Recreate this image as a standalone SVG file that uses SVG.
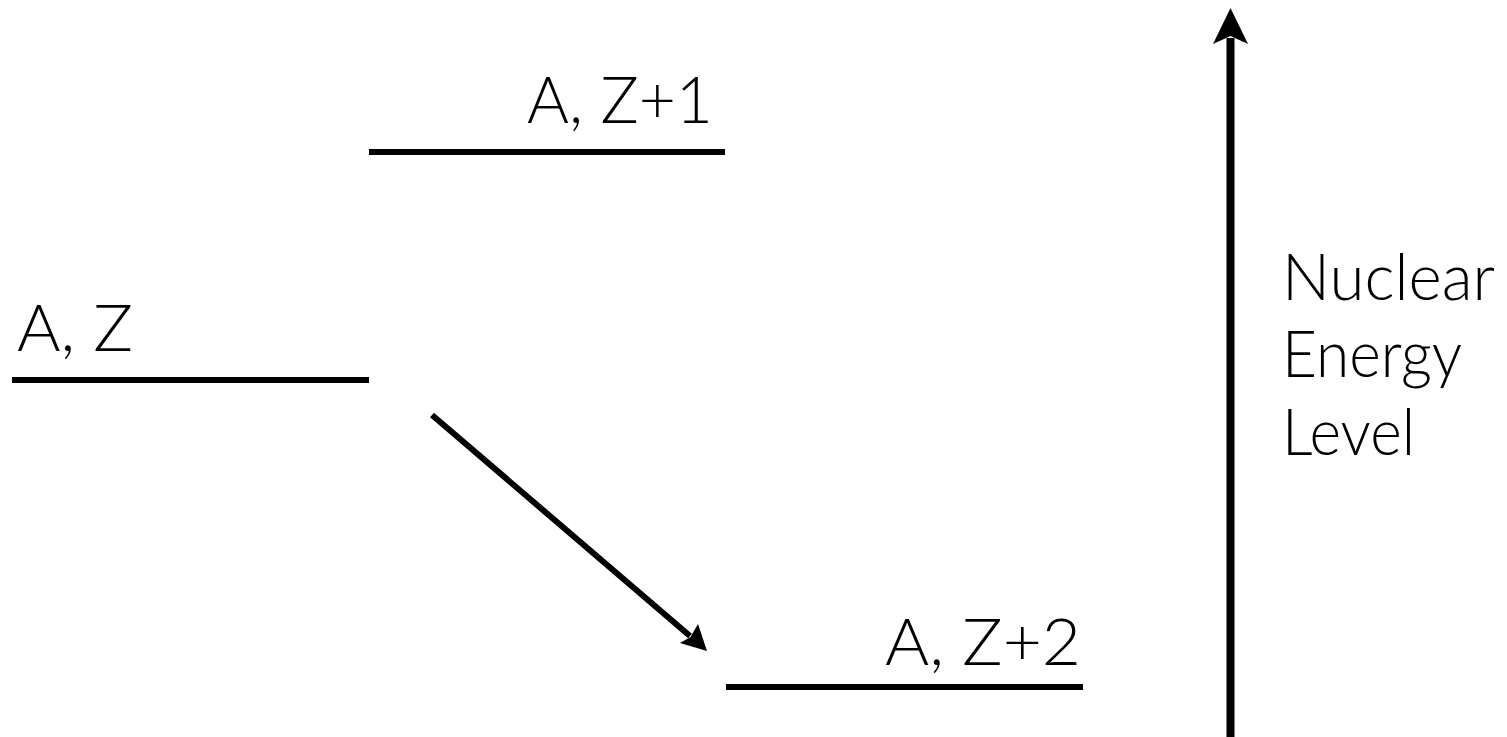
<svg xmlns="http://www.w3.org/2000/svg" width="1507" height="737" viewBox="0 0 1507 737">
<style>
.lbl{font-family:Lato,"Open Sans","Liberation Sans",sans-serif;font-weight:300;font-size:66px;fill:#000}
.lvl{stroke:#000;stroke-width:6;fill:none}
.conn{stroke:#000;fill:none}
.head{fill:#000;stroke:none}
</style>
<rect width="1507" height="737" fill="#fff"/>
<g id="level-az">
<line class="lvl" x1="12" y1="380" x2="369" y2="380"/>
<text class="lbl" x="17" y="351" textLength="116" lengthAdjust="spacingAndGlyphs">A, Z</text>
</g>
<g id="level-az1">
<line class="lvl" x1="369" y1="152" x2="725" y2="152"/>
<text class="lbl" x="527" y="123" textLength="186" lengthAdjust="spacingAndGlyphs">A, Z+1</text>
</g>
<g id="level-az2">
<line class="lvl" x1="726" y1="687" x2="1083" y2="687"/>
<text class="lbl" x="885" y="665" textLength="196" lengthAdjust="spacingAndGlyphs">A, Z+2</text>
</g>
<g id="axis-label">
<text class="lbl" x="1282" y="300" textLength="213" lengthAdjust="spacingAndGlyphs">Nuclear</text>
<text class="lbl" x="1282" y="377" textLength="180" lengthAdjust="spacingAndGlyphs">Energy</text>
<text class="lbl" x="1282" y="455" textLength="133" lengthAdjust="spacingAndGlyphs">Level</text>
</g>
<g id="connectors">
<line class="conn" stroke-width="6" x1="432" y1="415" x2="690" y2="636"/>
<path class="head" d="M707,651 L680,643 L690.5,637 L698,624 Z"/>
<line class="conn" stroke-width="8" x1="1230.5" y1="737" x2="1230.5" y2="38"/>
<path class="head" d="M1230.5,8 L1248,44 L1230.5,36 L1213,44 Z"/>
</g>
</svg>
